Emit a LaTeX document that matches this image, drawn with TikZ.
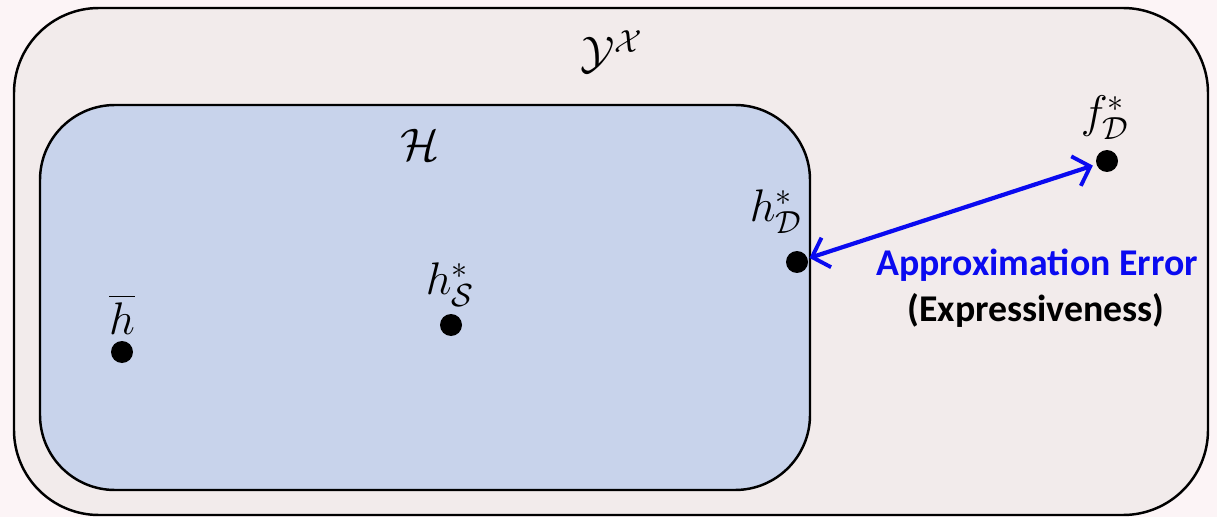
\RequirePackage{fix-cm}
\documentclass[tikz,border=0pt]{standalone}
\usepackage{amsmath}
\usepackage{fontspec}
\usepackage{tikz}
\usetikzlibrary{arrows.meta}
\newfontfamily\calibrifont{Carlito}
\definecolor{pagebg}{RGB}{252, 244, 246}
\definecolor{spacefill}{RGB}{242, 235, 235}
\definecolor{hypfill}{RGB}{200, 211, 235}
\definecolor{errblue}{RGB}{10, 10, 240}

\begin{document}
\begin{tikzpicture}[
    x=0.02cm, y=-0.02cm,
    region/.style={draw=black, line width=1.4pt},
    dot/.style={circle, fill=black, inner sep=0pt, minimum size=0.44cm},
    mathlabel/.style={font=\fontsize{26}{30}\selectfont, inner sep=0pt},
    errlabel/.style={font=\calibrifont\bfseries\fontsize{21.5}{25}\selectfont, inner sep=0pt},
    errarrow/.style={{Straight Barb[length=0.3cm, width=0.62cm, line width=2.2pt]}-{Straight Barb[length=0.3cm, width=0.62cm, line width=2.2pt]},
                     line width=2.4pt, draw=errblue},
]

% Page
\fill[pagebg] (0,0) rectangle (1217,517);
\useasboundingbox (0,0) rectangle (1217,517);

% All functions Y^X
\draw[region, fill=spacefill, rounded corners=1.7cm] (14,8) rectangle (1208,515);

% Hypothesis class H
\draw[region, fill=hypfill, rounded corners=1.5cm] (40,105) rectangle (810,490);

% Labels of the regions
\node[mathlabel] (yx) at (612,52) {$\mathcal{Y}^{\mathcal{X}}$};
\node[mathlabel] (hyp) at (420,145) {$\mathcal{H}$};

% Points
\node[dot] (hbar) at (122,352) {};
\node[dot] (hS) at (451,325) {};
\node[dot] (hD) at (797,262) {};
\node[dot] (fD) at (1107,161) {};

\node[mathlabel] (hbarlbl) at (122,314) {$\overline{h}$};
\node[mathlabel] (hSlbl) at (450,285) {$h_{\mathcal{S}}^{*}$};
\node[mathlabel] (hDlbl) at (776,212) {$h_{\mathcal{D}}^{*}$};
\node[mathlabel] (fDlbl) at (1105,118) {$f_{\mathcal{D}}^{*}$};

% Approximation error
\draw[errarrow, shorten <=1pt, shorten >=2pt] (hD) -- (fD);
\node[errlabel, text=errblue] (err) at (1037,265) {Approximation Error};
\node[errlabel, text=black] (expr) at (1036,310) {(Expressiveness)};

\end{tikzpicture}
\end{document}
